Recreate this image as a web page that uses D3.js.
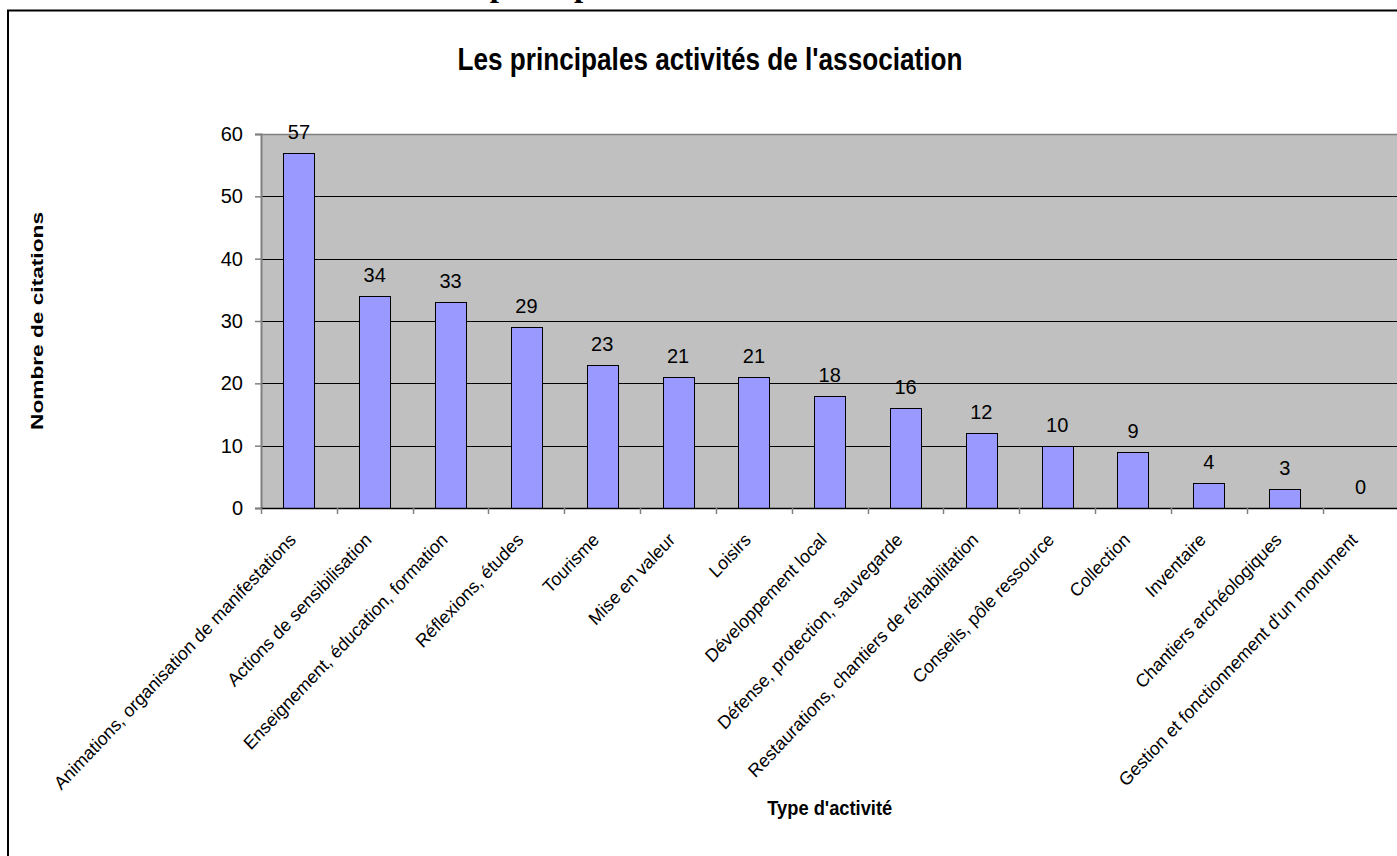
<!DOCTYPE html>
<html>
<head>
<meta charset="utf-8">
<script src="https://cdn.jsdelivr.net/npm/d3@7"></script>
<style>
  html, body { margin: 0; padding: 0; background: #fff; overflow: hidden; }
  svg { display: block; }
  text { font-family: Arial, "Liberation Sans", sans-serif; fill: #000; }
</style>
</head>
<body>
<svg id="chart" width="1397" height="856"></svg>
<script>
const categories = [
  "Animations, organisation de manifestations",
  "Actions de sensibilisation",
  "Enseignement, éducation, formation",
  "Réflexions, études",
  "Tourisme",
  "Mise en valeur",
  "Loisirs",
  "Développement local",
  "Défense, protection, sauvegarde",
  "Restaurations, chantiers de réhabilitation",
  "Conseils, pôle ressource",
  "Collection",
  "Inventaire",
  "Chantiers archéologiques",
  "Gestion et fonctionnement d'un monument"
];
const values = [57, 34, 33, 29, 23, 21, 21, 18, 16, 12, 10, 9, 4, 3, 0];
const yTicks = [0, 10, 20, 30, 40, 50, 60];
const chartTitle = "Les principales activités de l'association";
const xTitle = "Type d'activité";
const yTitle = "Nombre de citations";
const docHeading = "Les principales activités de l'association";

(function () {
const svg = d3.select("#chart");

// document heading, cut off at the top of the picture as in the reference
svg.append("text")
  .attr("x", 432).attr("y", -4)
  .style("font-family", "'Liberation Serif', 'Times New Roman', serif")
  .style("font-weight", "bold").style("font-size", "33px")
  .text(docHeading);

// chart frame
svg.append("line").attr("x1", 7).attr("x2", 1397).attr("y1", 10.5).attr("y2", 10.5)
  .attr("stroke", "#000").attr("stroke-width", 2);
svg.append("line").attr("x1", 8).attr("x2", 8).attr("y1", 10).attr("y2", 856)
  .attr("stroke", "#000").attr("stroke-width", 2);

const pLeft = 261, step = 75.83, pTop = 134, pBottom = 508;
const pRight = pLeft + step * categories.length;

const x = d3.scaleBand().domain(categories).range([pLeft, pRight]).padding(0);
const y = d3.scaleLinear().domain([0, 60]).range([pBottom, pTop]);

// plot area
svg.append("rect").attr("x", pLeft).attr("y", y(60))
  .attr("width", pRight - pLeft).attr("height", y(0) - y(60))
  .attr("fill", "#C0C0C0");

// gridlines
svg.append("g").selectAll("line").data(yTicks.filter(t => t > 0 && t < 60)).join("line")
  .attr("x1", pLeft).attr("x2", pRight)
  .attr("y1", d => Math.round(y(d)) + 0.5).attr("y2", d => Math.round(y(d)) + 0.5)
  .attr("stroke", "#000").attr("stroke-width", 1);
svg.append("line").attr("x1", pLeft).attr("x2", pRight)
  .attr("y1", Math.round(y(60)) + 0.5).attr("y2", Math.round(y(60)) + 0.5)
  .attr("stroke", "#808080").attr("stroke-width", 1.5);

// bars
const bw = step * 0.41;
svg.append("g").selectAll("rect").data(values).join("rect")
  .attr("x", (d, i) => Math.round(x(categories[i]) + (x.bandwidth() - bw) / 2) + 0.5)
  .attr("y", d => Math.round(y(d)) + 0.5)
  .attr("width", Math.round(bw))
  .attr("height", d => Math.round(y(0)) - Math.round(y(d)))
  .attr("fill", "#9999FF")
  .attr("stroke", "#000").attr("stroke-width", 1)
  .style("display", d => d > 0 ? null : "none");

// value labels
svg.append("g").selectAll("text").data(values).join("text")
  .attr("x", (d, i) => x(categories[i]) + x.bandwidth() / 2)
  .attr("y", d => y(d) - 14)
  .attr("text-anchor", "middle")
  .style("font-size", "20px")
  .text(d => d);

// y axis
const yAxis = d3.axisLeft(y).tickValues(yTicks).tickSize(6).tickPadding(12).tickFormat(d3.format("d"));
const gy = svg.append("g").attr("transform", `translate(${pLeft},0)`).call(yAxis);
gy.select(".domain").attr("stroke", "#808080").attr("stroke-width", 2);
gy.selectAll(".tick line").attr("stroke", "#808080").attr("stroke-width", 1.5);
gy.selectAll(".tick text").style("font-size", "20px")
  .style("font-family", "Arial, 'Liberation Sans', sans-serif").attr("fill", "#000");

// x axis baseline and ticks at band boundaries
svg.append("line").attr("x1", pLeft).attr("x2", pRight)
  .attr("y1", Math.round(y(0)) + 0.5).attr("y2", Math.round(y(0)) + 0.5)
  .attr("stroke", "#000").attr("stroke-width", 1.5);
const bounds = categories.map(c => x(c)).concat([pRight]);
svg.append("g").selectAll("line").data(bounds).join("line")
  .attr("x1", d => Math.round(d) + 0.5).attr("x2", d => Math.round(d) + 0.5)
  .attr("y1", y(0)).attr("y2", y(0) + 6)
  .attr("stroke", "#808080").attr("stroke-width", 1.5);

// x tick labels, rotated (slightly steeper than 45° as in the reference)
svg.append("g").selectAll("text").data(categories).join("text")
  .attr("transform", c => `translate(${x(c) + x.bandwidth() / 2 - 2},${pBottom + 33}) scale(1,1.06) rotate(-45)`)
  .attr("text-anchor", "end")
  .style("font-size", "17.5px")
  .text(c => c);

// chart title
svg.append("text")
  .attr("x", 710).attr("y", 70)
  .attr("text-anchor", "middle")
  .attr("textLength", 505).attr("lengthAdjust", "spacingAndGlyphs")
  .style("font-weight", "bold").style("font-size", "32px")
  .text(chartTitle);

// x title
svg.append("text")
  .attr("transform", `translate(${(pLeft + pRight) / 2},815) scale(1,1.15)`)
  .attr("text-anchor", "middle")
  .attr("textLength", 125).attr("lengthAdjust", "spacingAndGlyphs")
  .style("font-weight", "bold").style("font-size", "18px")
  .text(xTitle);

// y title
svg.append("text")
  .attr("transform", `translate(43,${(pTop + pBottom) / 2}) rotate(-90)`)
  .attr("text-anchor", "middle")
  .attr("textLength", 218).attr("lengthAdjust", "spacingAndGlyphs")
  .style("font-weight", "bold").style("font-size", "16px")
  .text(yTitle);
})();
</script>
</body>
</html>
